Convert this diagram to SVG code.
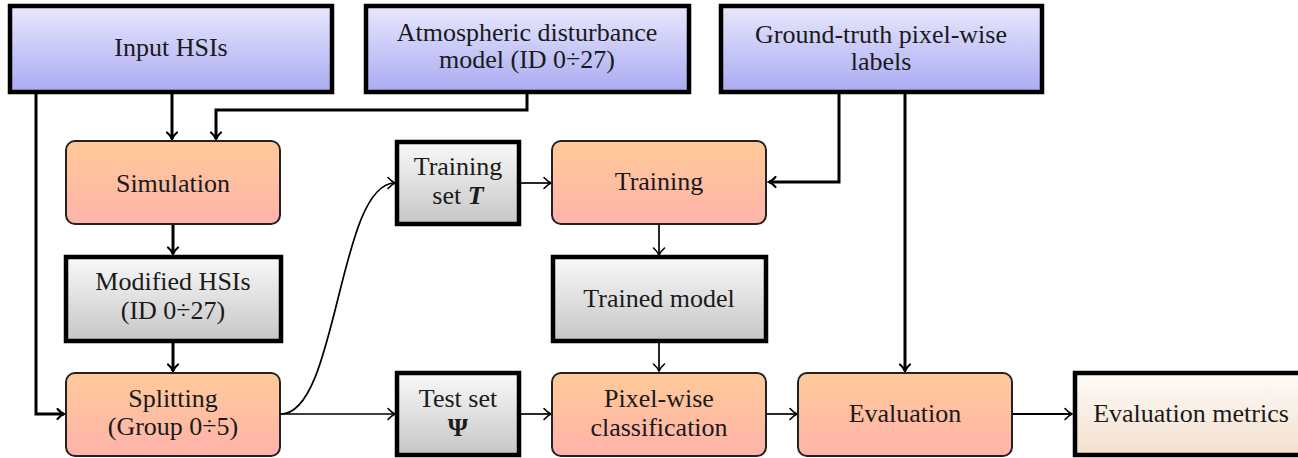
<svg xmlns="http://www.w3.org/2000/svg" width="1298" height="458" viewBox="0 0 1298 458">
<style>
text{font-family:"Liberation Serif","Times New Roman",serif;font-size:26px;fill:#1a1a1a;text-anchor:middle}
.blue{fill:url(#gBlue);stroke:#000;stroke-width:4.5}
.gray{fill:url(#gGray);stroke:#000;stroke-width:4.5}
.orng{fill:url(#gOrng);stroke:#222;stroke-width:2}
.cream{fill:url(#gCream);stroke:#000;stroke-width:4.5}
.thick{fill:none;stroke:#000;stroke-width:3;marker-end:url(#arrT)}
.thin{fill:none;stroke:#000;stroke-width:1.7;marker-end:url(#arr)}
.plain{fill:none;stroke:#000;stroke-width:3}
</style>
<defs>
<linearGradient id="gBlue" x1="0" y1="0" x2="0" y2="1"><stop offset="0" stop-color="#e8e8fd"/><stop offset="1" stop-color="#aaaaf2"/></linearGradient>
<linearGradient id="gGray" x1="0" y1="0" x2="0" y2="1"><stop offset="0" stop-color="#f9f9f9"/><stop offset="1" stop-color="#c6c6c6"/></linearGradient>
<linearGradient id="gOrng" x1="0" y1="0" x2="0" y2="1"><stop offset="0" stop-color="#ffca98"/><stop offset="1" stop-color="#ffb3ab"/></linearGradient>
<linearGradient id="gCream" x1="0" y1="0" x2="0" y2="1"><stop offset="0" stop-color="#fefbf8"/><stop offset="1" stop-color="#f3e0cd"/></linearGradient>
<marker id="arr" markerUnits="userSpaceOnUse" viewBox="-10 -8 12 16" refX="0" refY="0" markerWidth="12" markerHeight="16" orient="auto" overflow="visible">
<path d="M-7,-5.5 C-4,-2.2 -1.5,-0.6 0,0 C-1.5,0.6 -4,2.2 -7,5.5" fill="none" stroke="#000" stroke-width="1.6" stroke-linecap="round"/>
</marker>
<marker id="arrT" markerUnits="userSpaceOnUse" viewBox="-10 -8 12 16" refX="0" refY="0" markerWidth="12" markerHeight="16" orient="auto" overflow="visible">
<path d="M-6.5,-5 C-4,-2 -1.5,-0.6 0,0 C-1.5,0.6 -4,2 -6.5,5" fill="none" stroke="#000" stroke-width="2.2" stroke-linecap="round"/>
</marker>
</defs>

<g id="connectors">
<path class="thick" d="M36,92 V414 H64"/>
<path class="thick" d="M172,92 V139"/>
<path class="thick" d="M527,92 V110 H216 V139"/>
<path class="thick" d="M839,92 V182 H769"/>
<path class="thick" d="M905,92 V371"/>
<path class="thick" d="M173,224 V254"/>
<path class="thick" d="M173,341 V371"/>
<path class="thin" d="M281,414 C338,414 338,183 395,183"/>
<path class="thin" d="M281,414 H395"/>
<path class="thin" d="M521,183 H551"/>
<path class="thin" d="M521,414 H551"/>
<path class="thin" d="M659,224 V255"/>
<path class="thin" d="M659,341 V371"/>
<path class="thin" d="M767,414 H797"/>
<path class="thin" d="M1013,414 H1072" style="stroke-width:2.2"/>
</g>

<g id="input-hsis">
<rect class="blue" x="10" y="6" width="322" height="86"/>
<text x="171" y="56">Input HSIs</text>
</g>
<g id="atmospheric-model">
<rect class="blue" x="366" y="6" width="323" height="86"/>
<text x="527" y="41">Atmospheric disturbance</text>
<text x="527" y="68">model (ID 0÷27)</text>
</g>
<g id="ground-truth">
<rect class="blue" x="721" y="6" width="321" height="86"/>
<text x="881" y="43">Ground-truth pixel-wise</text>
<text x="881" y="70">labels</text>
</g>
<g id="simulation">
<rect class="orng" x="66" y="141" width="214" height="83" rx="9"/>
<text x="173" y="192">Simulation</text>
</g>
<g id="modified-hsis">
<rect class="gray" x="66" y="257" width="215" height="84"/>
<text x="173" y="290">Modified HSIs</text>
<text x="173" y="319">(ID 0÷27)</text>
</g>
<g id="splitting">
<rect class="orng" x="66" y="373" width="214" height="83" rx="9"/>
<text x="173" y="407">Splitting</text>
<text x="173" y="435">(Group 0÷5)</text>
</g>
<g id="training-set">
<rect class="gray" x="397" y="142" width="122" height="82"/>
<text x="458" y="175">Training</text>
<text x="458" y="204">set <tspan font-style="italic" font-weight="bold">T</tspan></text>
</g>
<g id="training">
<rect class="orng" x="552" y="141" width="214" height="83" rx="9"/>
<text x="659" y="190">Training</text>
</g>
<g id="trained-model">
<rect class="gray" x="553" y="257" width="213" height="84"/>
<text x="659" y="307">Trained model</text>
</g>
<g id="test-set">
<rect class="gray" x="397" y="373" width="122" height="82"/>
<text x="458" y="407">Test set</text>
<text x="458" y="436" font-weight="bold">Ψ</text>
</g>
<g id="pixel-wise-classification">
<rect class="orng" x="552" y="373" width="214" height="83" rx="9"/>
<text x="659" y="407">Pixel-wise</text>
<text x="659" y="436">classification</text>
</g>
<g id="evaluation">
<rect class="orng" x="798" y="373" width="214" height="83" rx="9"/>
<text x="905" y="422">Evaluation</text>
</g>
<g id="evaluation-metrics">
<rect class="cream" x="1075" y="373" width="240" height="82"/>
<text x="1191" y="422">Evaluation metrics</text>
</g>
</svg>
